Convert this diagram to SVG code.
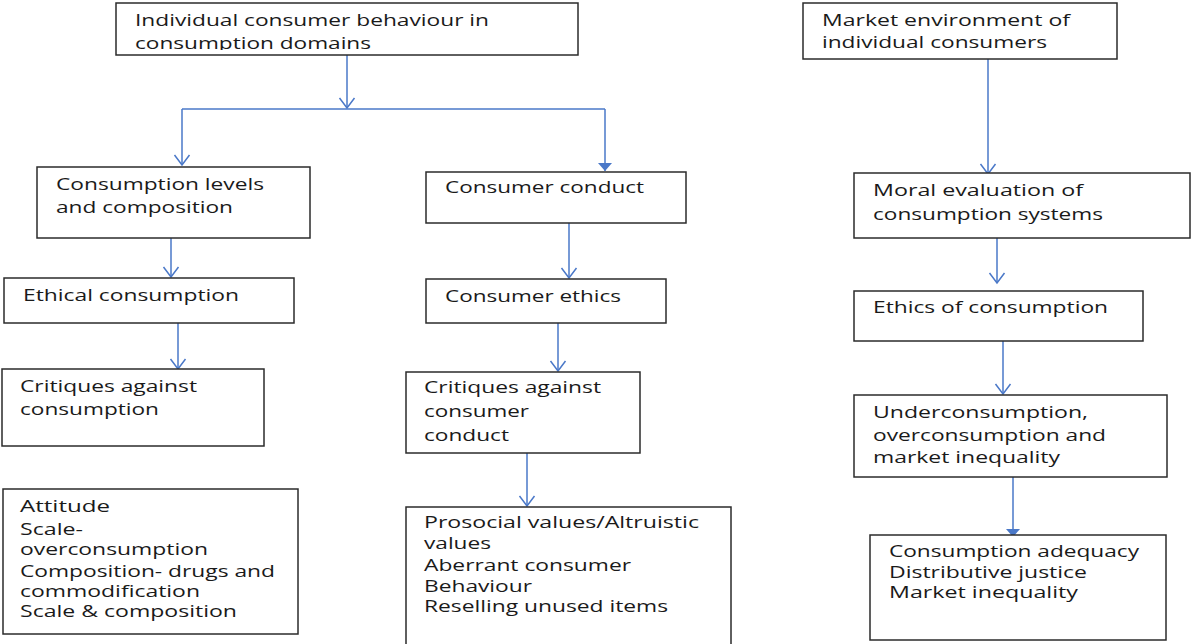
<svg xmlns="http://www.w3.org/2000/svg" width="1192" height="644" viewBox="0 0 1192 644">
<style>
.box{fill:#fff;stroke:#2b2b2b;stroke-width:1.5}
.t{font-family:"Open Sans","Noto Sans","Liberation Sans",sans-serif;font-size:16px;fill:#1a1a1a}
.c{fill:none;stroke:#4a78c8;stroke-width:1.5}
</style>
<defs>
<marker id="open" viewBox="-12 -9 14 18" refX="0" refY="0" markerWidth="14" markerHeight="18" markerUnits="userSpaceOnUse" orient="auto">
<path d="M-10,-7.5 L0,0 L-10,7.5" fill="none" stroke="#4a78c8" stroke-width="1.5"/>
</marker>
<marker id="fill" viewBox="-10 -8 11 16" refX="0" refY="0" markerWidth="11" markerHeight="16" markerUnits="userSpaceOnUse" orient="auto">
<path d="M-8,-7 L0,0 L-8,7 Z" fill="#4a78c8"/>
</marker>
<clipPath id="clip1"><rect x="116" y="3" width="462" height="47"/></clipPath>
</defs>
<rect width="1192" height="644" fill="#fff"/>
<g id="connectors">
<path class="c" d="M347,55 V108" marker-end="url(#open)"/>
<path class="c" d="M182,109 H605"/>
<path class="c" d="M182,109 V165" marker-end="url(#open)"/>
<path class="c" d="M605,109 V171" marker-end="url(#fill)"/>
<path class="c" d="M171,238 V277" marker-end="url(#open)"/>
<path class="c" d="M178,323 V369" marker-end="url(#open)"/>
<path class="c" d="M569,223 V278" marker-end="url(#open)"/>
<path class="c" d="M558,323 V371" marker-end="url(#open)"/>
<path class="c" d="M527,453 V506" marker-end="url(#open)"/>
<path class="c" d="M988,59 V174" marker-end="url(#open)"/>
<path class="c" d="M997,238 V283" marker-end="url(#open)"/>
<path class="c" d="M1003,329 V394" marker-end="url(#open)"/>
<path class="c" d="M1013,477 V537" marker-end="url(#fill)"/>
</g>
<g id="n-individual">
<rect class="box" x="116" y="3" width="462" height="52"/>
<g clip-path="url(#clip1)">
<text class="t" x="135" y="26" textLength="354" lengthAdjust="spacingAndGlyphs">Individual consumer behaviour in</text>
<text class="t" x="135" y="49" textLength="236" lengthAdjust="spacingAndGlyphs">consumption domains</text>
</g>
</g>
<g id="n-market">
<rect class="box" x="803" y="3" width="314" height="56"/>
<text class="t" x="822" y="26" textLength="248" lengthAdjust="spacingAndGlyphs">Market environment of</text>
<text class="t" x="822" y="48" textLength="225" lengthAdjust="spacingAndGlyphs">individual consumers</text>
</g>
<g id="n-levels">
<rect class="box" x="37" y="167" width="273" height="71"/>
<text class="t" x="56" y="190" textLength="208" lengthAdjust="spacingAndGlyphs">Consumption levels</text>
<text class="t" x="56" y="213" textLength="177" lengthAdjust="spacingAndGlyphs">and composition</text>
</g>
<g id="n-conduct">
<rect class="box" x="426" y="172" width="260" height="51"/>
<text class="t" x="445" y="193" textLength="199" lengthAdjust="spacingAndGlyphs">Consumer conduct</text>
</g>
<g id="n-moral">
<rect class="box" x="854" y="173" width="336" height="65"/>
<text class="t" x="873" y="196" textLength="210" lengthAdjust="spacingAndGlyphs">Moral evaluation of</text>
<text class="t" x="873" y="220" textLength="230" lengthAdjust="spacingAndGlyphs">consumption systems</text>
</g>
<g id="n-ethical">
<rect class="box" x="4" y="278" width="290" height="45"/>
<text class="t" x="23" y="301" textLength="216" lengthAdjust="spacingAndGlyphs">Ethical consumption</text>
</g>
<g id="n-consethics">
<rect class="box" x="426" y="279" width="240" height="44"/>
<text class="t" x="445" y="302" textLength="176" lengthAdjust="spacingAndGlyphs">Consumer ethics</text>
</g>
<g id="n-ethicsof">
<rect class="box" x="854" y="291" width="289" height="50"/>
<text class="t" x="873" y="313" textLength="235" lengthAdjust="spacingAndGlyphs">Ethics of consumption</text>
</g>
<g id="n-critcons">
<rect class="box" x="2" y="369" width="262" height="77"/>
<text class="t" x="20" y="392" textLength="177" lengthAdjust="spacingAndGlyphs">Critiques against</text>
<text class="t" x="20" y="415" textLength="139" lengthAdjust="spacingAndGlyphs">consumption</text>
</g>
<g id="n-critconduct">
<rect class="box" x="406" y="372" width="234" height="81"/>
<text class="t" x="424" y="393" textLength="177" lengthAdjust="spacingAndGlyphs">Critiques against</text>
<text class="t" x="424" y="417" textLength="105" lengthAdjust="spacingAndGlyphs">consumer</text>
<text class="t" x="424" y="441" textLength="85" lengthAdjust="spacingAndGlyphs">conduct</text>
</g>
<g id="n-under">
<rect class="box" x="854" y="395" width="313" height="82"/>
<text class="t" x="873" y="418" textLength="215" lengthAdjust="spacingAndGlyphs">Underconsumption,</text>
<text class="t" x="873" y="441" textLength="233" lengthAdjust="spacingAndGlyphs">overconsumption and</text>
<text class="t" x="873" y="463" textLength="187" lengthAdjust="spacingAndGlyphs">market inequality</text>
</g>
<g id="n-attitude">
<rect class="box" x="3" y="489" width="295" height="145"/>
<text class="t" x="20" y="512" textLength="90" lengthAdjust="spacingAndGlyphs">Attitude</text>
<text class="t" x="20" y="535" textLength="63" lengthAdjust="spacingAndGlyphs">Scale-</text>
<text class="t" x="20" y="555" textLength="188" lengthAdjust="spacingAndGlyphs">overconsumption</text>
<text class="t" x="20" y="577" textLength="255" lengthAdjust="spacingAndGlyphs">Composition- drugs and</text>
<text class="t" x="20" y="597" textLength="180" lengthAdjust="spacingAndGlyphs">commodification</text>
<text class="t" x="20" y="617" textLength="217" lengthAdjust="spacingAndGlyphs">Scale &amp; composition</text>
</g>
<g id="n-prosocial">
<rect class="box" x="406" y="507" width="325" height="140"/>
<text class="t" x="424" y="528" textLength="275" lengthAdjust="spacingAndGlyphs">Prosocial values/Altruistic</text>
<text class="t" x="424" y="549" textLength="67" lengthAdjust="spacingAndGlyphs">values</text>
<text class="t" x="424" y="571" textLength="207" lengthAdjust="spacingAndGlyphs">Aberrant consumer</text>
<text class="t" x="424" y="592" textLength="108" lengthAdjust="spacingAndGlyphs">Behaviour</text>
<text class="t" x="424" y="612" textLength="244" lengthAdjust="spacingAndGlyphs">Reselling unused items</text>
</g>
<g id="n-adequacy">
<rect class="box" x="870" y="535" width="296" height="105"/>
<text class="t" x="889" y="557" textLength="250" lengthAdjust="spacingAndGlyphs">Consumption adequacy</text>
<text class="t" x="889" y="578" textLength="198" lengthAdjust="spacingAndGlyphs">Distributive justice</text>
<text class="t" x="889" y="598" textLength="189" lengthAdjust="spacingAndGlyphs">Market inequality</text>
</g>
</svg>
